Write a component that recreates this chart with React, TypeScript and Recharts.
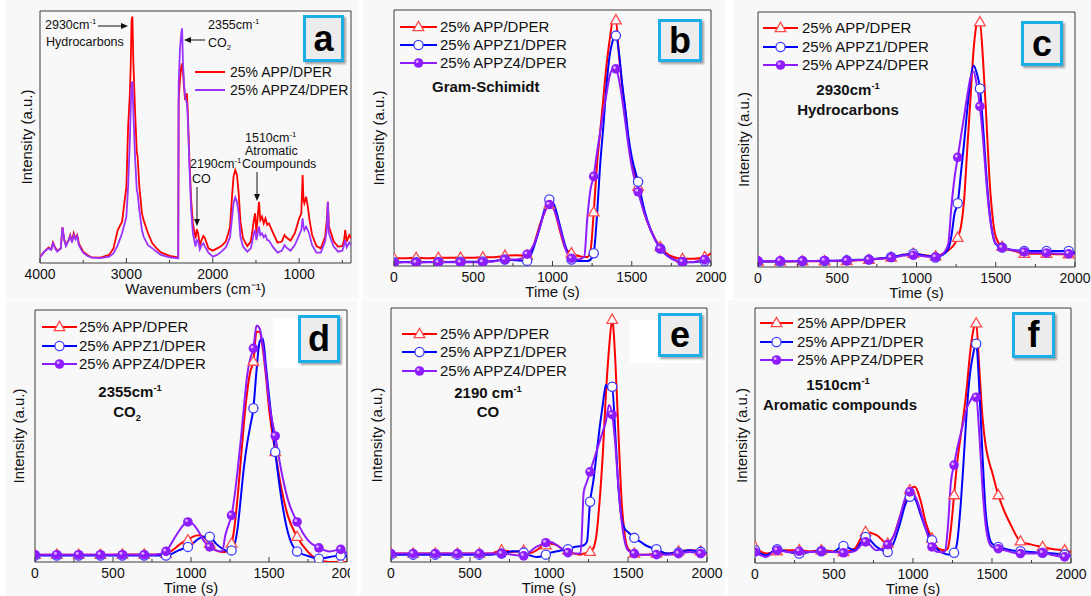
import React from 'react';
import { LineChart, Line, XAxis, YAxis, ReferenceArea } from 'recharts';

const FONT = '"Liberation Sans", Arial, Helvetica, sans-serif';
const RED = '#ff0000';
const BLUE = '#0000ff';
const PURPLE = '#8f1cff';
const PURPLE_A = '#9933ff';
const FRAME = '#3c3c3c';
const BG = '#f8f8f8';

// ---------------- Panel a : FTIR spectra ----------------
const wavenumbers = [
  4000, 3950, 3900, 3870, 3850, 3820, 3800, 3760, 3740, 3720,
  3700, 3670, 3650, 3630, 3610, 3590, 3570, 3550, 3520, 3500,
  3450, 3400, 3300, 3200, 3150, 3100, 3050, 3000, 2980, 2960,
  2950, 2940, 2930, 2920, 2900, 2880, 2870, 2850, 2820, 2800,
  2750, 2700, 2650, 2600, 2500, 2400, 2395, 2380, 2365, 2355,
  2345, 2330, 2320, 2310, 2300, 2290, 2270, 2250, 2230, 2200,
  2185, 2170, 2150, 2130, 2110, 2090, 2050, 2000, 1950, 1900,
  1850, 1820, 1800, 1780, 1760, 1740, 1720, 1700, 1680, 1650,
  1600, 1560, 1540, 1525, 1510, 1495, 1480, 1465, 1450, 1430,
  1410, 1390, 1370, 1350, 1300, 1250, 1200, 1170, 1150, 1100,
  1050, 1000, 975, 960, 950, 940, 920, 900, 880, 850,
  800, 750, 700, 680, 668, 655, 630, 600, 550, 500,
  480, 467, 450, 420, 400,
];
const aAPP = [
  2.5, 4.5, 6.2, 5.4, 8.1, 5.8, 4.9, 5.8, 14.2, 9.4,
  7.1, 9.1, 11.1, 8.5, 11.8, 9.8, 11.1, 7.8, 5.8, 4.5,
  3.2, 2.2, 2.1, 3.2, 5.8, 13.1, 16.4, 30.3, 54, 67,
  78, 96.4, 97.8, 80.6, 60.7, 44.2, 42.2, 30.3, 19.7, 17,
  11.8, 7.8, 5.8, 4.2, 2.8, 2.2, 64.7, 72.6, 78, 79.2,
  75.3, 68.7, 64.7, 66, 67.3, 60.7, 40.9, 25, 15.7, 9.8,
  13.4, 11.8, 7.1, 9.1, 10.7, 9.8, 5.8, 4.9, 5.8, 6.7,
  8.5, 11.8, 14.4, 25, 34.3, 36.9, 34.9, 27.6, 16.4, 9.8,
  6.7, 8.5, 13.1, 17, 19.7, 11.8, 18.4, 24.3, 17, 18.4,
  15.7, 17.7, 15.1, 15.7, 11.8, 8.1, 8.5, 11.1, 10.2, 8.9,
  11.8, 17.7, 19.7, 34.9, 25, 23.7, 26.3, 22.4, 17, 11.1,
  6.7, 5.8, 10.4, 17, 24.3, 14.4, 11.8, 8.5, 6.5, 6.7,
  9.1, 13.1, 8.5, 11.1, 9.8,
];
const aAPPZ4 = [
  2.2, 4.5, 5.8, 5.2, 7.8, 5.4, 4.5, 5.8, 14.2, 9.1,
  6.7, 8.9, 10.7, 8.1, 11.1, 9.4, 10.7, 7.1, 5.2, 4.1,
  2.8, 2.1, 1.9, 2.5, 3.8, 7.1, 11.8, 18.4, 30.3, 48.8,
  60.7, 71.3, 72, 60.7, 42.2, 29, 27.6, 21, 13.1, 10.4,
  7.1, 5.8, 4.5, 3.2, 2.2, 1.9, 71.3, 84.5, 91.1, 93.1,
  79.2, 70, 66, 64.7, 63.4, 58.1, 38.2, 21, 11.8, 6.5,
  9.1, 8.9, 5.4, 7.1, 7.8, 6.5, 4.1, 2.5, 3.2, 4.5,
  6.2, 8.5, 10.4, 17, 23.7, 26.1, 24.3, 19.7, 10.4, 6.5,
  4.5, 5.8, 9.1, 11.8, 13.1, 9.1, 11.8, 14.4, 11.1, 11.8,
  10.2, 11.1, 9.1, 8.9, 6.2, 4.1, 4.9, 7.1, 6.2, 4.9,
  7.1, 11.1, 13.1, 17.7, 14.4, 13.1, 14.4, 13.1, 11.1, 7.1,
  4.1, 4.1, 8.5, 13.1, 24.3, 11.8, 9.1, 6.5, 4.5, 4.9,
  7.1, 9.1, 6.2, 8.1, 7.1,
];
const wavenumberTicks = [4000, 3500, 3000, 2500, 2000, 1500, 1000, 500];

// ---------------- Panels b-f : evolution vs time ----------------
const times = [
  0, 70, 140, 210, 280, 350, 420, 490, 560, 630,
  700, 770, 840, 880, 920, 950, 980, 1010, 1050, 1080,
  1120, 1160, 1200, 1220, 1240, 1260, 1280, 1300, 1320, 1340,
  1360, 1380, 1400, 1420, 1440, 1460, 1480, 1500, 1540, 1580,
  1620, 1680, 1750, 1820, 1890, 1960, 2000,
];
const timeTicks = [0, 250, 500, 750, 1000, 1250, 1500, 1750, 2000];

// b: Gram-Schimidt
const bAPP = [3, 3, 3.2, 3, 3.2, 3.2, 3.3, 3.2, 3.4, 3.4, 4, 4.2, 4, 8, 16, 21, 24, 22, 13, 7, 5, 4, 3.5, 3.5, 6, 21, 39, 52, 65, 78, 88, 95.5, 96, 82, 70, 60, 49, 41, 31, 20.5, 14, 7.4, 3.8, 2.8, 2.8, 3.5, 5];
const bAPPZ1 = [1.5, 1.6, 1.5, 1.6, 1.6, 1.6, 1.7, 1.7, 1.8, 2, 2.5, 2.2, 2, 7, 15, 22, 26, 24, 15, 8, 2.5, 2, 2, 2, 2.5, 5, 19, 39, 54, 70, 82, 88, 90, 83, 71, 61, 50, 42.6, 32.9, 21.8, 14, 6.8, 3, 1.6, 1.5, 2, 2];
const bAPPZ4 = [1.2, 1.5, 1.3, 1.5, 1.4, 1.5, 1.4, 1.5, 1.5, 1.8, 2.5, 2.5, 4.6, 8, 15, 21, 24, 22, 14, 7, 3, 2.5, 3.5, 19, 30, 35, 44, 52, 60, 67, 74, 77, 77, 72.6, 65, 56, 46.5, 38.7, 29, 20.5, 14, 6.8, 2.9, 1.6, 1.6, 2.5, 1.6];

// c: 2930 cm-1 hydrocarbons
const cAPP = [2.2, 2.2, 2.2, 2.2, 2.3, 2.3, 2.3, 2.4, 2.4, 2.6, 2.8, 3.2, 3.7, 4.2, 4.8, 5, 5.2, 5, 4.6, 4.4, 4.2, 5, 6.5, 7.5, 9, 11.5, 15.7, 26, 46, 65.5, 85, 95, 96, 81, 59, 35, 19.7, 11.8, 7.9, 6.8, 6.3, 5.2, 5.2, 5.2, 5, 5, 5.2];
const cAPPZ1 = [2.2, 2.2, 2.2, 2.3, 2.3, 2.4, 2.4, 2.5, 2.6, 2.8, 2.9, 3.4, 3.9, 4.3, 4.8, 5, 5.2, 5, 4.5, 4.2, 3.7, 4.6, 7, 12, 21, 25, 36.7, 48.5, 61.6, 73.4, 79, 76, 70, 55, 36.7, 22, 13, 9, 7.6, 7, 6.6, 6.3, 6.3, 6.3, 6.3, 6.3, 5.5];
const cAPPZ4 = [2.4, 2.4, 2.4, 2.4, 2.4, 2.4, 2.5, 2.5, 2.5, 2.7, 2.9, 3.2, 3.7, 4, 4.5, 4.6, 4.6, 4.5, 4.2, 4, 3.9, 4.8, 9, 23.6, 35, 43, 51, 59, 67, 74, 76.7, 71.4, 63, 50, 34, 21, 13, 9.2, 7.6, 7, 6.5, 5.9, 5.6, 5.5, 5.3, 5.2, 5.2];

// d: 2355 cm-1 CO2
const dAPP = [2.9, 2.9, 2.9, 2.9, 2.9, 2.9, 2.9, 2.9, 3, 3, 3, 3, 3.3, 4.6, 6.6, 8, 8.6, 10, 10.6, 10, 7.3, 4.6, 4, 4, 5.3, 7.3, 14.6, 26.5, 41, 55.6, 67.5, 75.5, 79.5, 91.4, 91.4, 84.8, 74, 61, 43.7, 29, 18.5, 10, 4, 0.7, 0, 0, 0];
const dAPPZ1 = [2.6, 2.6, 2.6, 2.6, 2.6, 2.6, 2.6, 2.6, 2.6, 2.6, 2.6, 2.6, 2.6, 3.3, 4.6, 5.3, 6, 7.3, 9.3, 10, 10, 7.3, 5.3, 4.6, 4.2, 4.6, 7, 14, 26, 38, 47, 54, 61, 76, 87.4, 88.7, 78, 66, 43.7, 25, 12, 4.2, 2.4, 1.3, 2, 2.6, 2.4];
const dAPPZ4 = [2.9, 2.9, 2.9, 2.9, 2.9, 2.9, 2.9, 2.9, 2.9, 2.9, 2.9, 2.9, 4.2, 8, 12, 14.6, 15.9, 15.2, 12, 8.6, 6, 4.6, 4.2, 10.6, 14.6, 18.5, 26.5, 37, 49, 62, 74, 80.8, 84.8, 93.8, 92.7, 86, 75.5, 63.6, 50, 35.8, 25, 15.9, 8.6, 5.6, 4.2, 5, 3.3];

// e: 2190 cm-1 CO
const eAPP = [3.3, 3.3, 3.3, 3.3, 3.3, 3.3, 3.3, 3.3, 3.3, 3.3, 4.6, 4, 4.5, 3.5, 4.6, 6, 6.6, 7.2, 6.6, 5.3, 4.6, 3.3, 2.9, 3.3, 3.3, 4, 5.3, 10.5, 23.7, 42, 65.8, 84, 95.4, 79, 50, 23.7, 10.5, 5.3, 3.3, 2.9, 2.9, 3.3, 3.3, 4.2, 4.6, 4.2, 3.3];
const eAPPZ1 = [2.9, 2.9, 2.9, 2.9, 2.9, 2.9, 2.9, 2.9, 2.9, 2.9, 3.3, 4.2, 3.7, 2.6, 2, 2.2, 2.9, 3.7, 4.2, 4.6, 5, 5.9, 6.3, 6.6, 7.9, 23.7, 31.6, 42, 52.6, 61.8, 69.7, 68, 69, 50, 29, 17, 13, 11.8, 9.5, 7.9, 6.3, 5, 3.3, 3.7, 4.6, 4, 3.3];
const eAPPZ4 = [3.3, 3.3, 3.3, 3.3, 3.3, 3.3, 3.3, 3.3, 3.3, 3.3, 3.3, 2.9, 2.4, 4, 6, 6.8, 7.6, 7.9, 6.6, 5.3, 3.7, 3.3, 3.3, 27.6, 31.6, 35.5, 39.5, 43.4, 47.4, 51.3, 55.3, 61.8, 58, 46, 29, 15.8, 7.9, 4.6, 3.3, 2.9, 2.9, 2.9, 2.9, 3.3, 3.9, 3.3, 3.3];

// f: 1510 cm-1 aromatic compounds
const fAPP = [6.3, 3.7, 4.6, 5, 5, 4.6, 5, 4.6, 4.3, 5.6, 12.2, 10.9, 7.6, 10.9, 18.7, 24, 28.6, 29.9, 24, 16, 9.6, 5.6, 5, 5.6, 13.5, 26.6, 39.7, 48.9, 58, 68.5, 81.6, 90.8, 94, 76, 57, 46, 40, 35.8, 26.6, 20, 14.8, 8.5, 7.2, 6.3, 5.4, 5, 4.3];
const fAPPZ1 = [5, 3, 5.4, 4.3, 3.7, 4.3, 4.6, 4.3, 6.7, 5, 10.2, 6.3, 4.3, 8.3, 16, 22.7, 26, 25.3, 18.7, 13.5, 8.9, 5, 3.7, 3.3, 3.3, 4, 8.3, 21.4, 39.7, 59.4, 73.8, 81.7, 86, 68, 42, 20, 10.9, 7.6, 6.3, 5.6, 5, 4.6, 4.3, 4, 3.7, 3.3, 3];
const fAPPZ4 = [4.3, 2.4, 5, 4.3, 4.6, 4.3, 4.6, 4.3, 4, 4.6, 8.3, 5, 7.2, 10.9, 18.7, 25.3, 27.9, 26.6, 20, 13.5, 6.3, 4.3, 4.3, 13.5, 31.8, 38.4, 45, 50.2, 55.4, 60.7, 63.3, 65.3, 65, 50.2, 29.2, 14.8, 8.3, 6.3, 5.6, 5, 4.3, 3.7, 3.7, 4, 3, 2.4, 2.8];

const seriesNames = ['25% APP/DPER', '25% APPZ1/DPER', '25% APPZ4/DPER'];
const MARKER_STEP = 140;

type Series = { key: string; name: string; color: string; marker: string };

const SERIES3: Series[] = [
  { key: 'app', name: seriesNames[0], color: RED, marker: 'tri' },
  { key: 'z1', name: seriesNames[1], color: BLUE, marker: 'open' },
  { key: 'z4', name: seriesNames[2], color: PURPLE, marker: 'solid' },
];
const SERIES_A: Series[] = [
  { key: 'app', name: seriesNames[0], color: RED, marker: 'none' },
  { key: 'z4', name: seriesNames[2], color: PURPLE_A, marker: 'none' },
];

const spectrumRows = wavenumbers.map((w, i) => ({ w, app: aAPP[i], z4: aAPPZ4[i] }));
const timeRows = (app: number[], z1: number[], z4: number[]) =>
  times.map((t, i) => ({ t, app: app[i], z1: z1[i], z4: z4[i] }));

function markerShape(kind: string, cx: number, cy: number) {
  if (kind === 'tri')
    return (
      <path
        d={`M${cx},${cy - 5.6}L${cx + 5.3},${cy + 3.6}L${cx - 5.3},${cy + 3.6}Z`}
        fill="#ffffff"
        stroke="#ff4a4a"
        strokeWidth={1.3}
      />
    );
  if (kind === 'open') return <circle cx={cx} cy={cy} r={4.6} fill="#ffffff" stroke="#3d3dff" strokeWidth={1.3} />;
  if (kind === 'solid')
    return (
      <g>
        <circle cx={cx} cy={cy} r={4.8} fill={PURPLE} />
        <circle cx={cx - 1.4} cy={cy - 1.4} r={1.5} fill="#d9a8ff" />
      </g>
    );
  return null;
}

const dotFor = (s: Series) => (props: any) => {
  const { cx, cy, payload, index } = props;
  const k = `${s.key}-${index}`;
  if (cx == null || cy == null || payload.t % MARKER_STEP !== 0) return <g key={k} />;
  return <g key={k}>{markerShape(s.marker, cx, cy)}</g>;
};

const makeTick = (majorStep: number) => (p: any) => {
  const { x, y, payload } = p;
  const v = payload.value;
  const major = v % majorStep === 0;
  return (
    <g>
      <line x1={x} x2={x} y1={y} y2={y - (major ? 5 : 3)} stroke={FRAME} strokeWidth={1} />
      {major ? (
        <text x={x} y={y + 16} textAnchor="middle" fontSize={14} fontFamily={FONT} fill="#111">
          {v}
        </text>
      ) : null}
    </g>
  );
};

type Plot = { x: number; y: number; w: number; h: number };

function ChartPanel(props: {
  plot: Plot;
  rightPad: number;
  data: any[];
  xKey: string;
  domain: number[];
  ticks: number[];
  majorStep: number;
  reversed?: boolean;
  xLabel: string;
  yOff: number;
  series: Series[];
  curve: 'linear' | 'monotone';
  strokeWidth: number;
}) {
  const { plot, rightPad, data, xKey, domain, ticks, majorStep, reversed, xLabel, yOff, series, curve, strokeWidth } = props;
  const left = plot.x - 40;
  const top = plot.y - 5;
  const W = plot.w + 40 + rightPad;
  const H = plot.h + 45;
  return (
    <div style={{ position: 'absolute', left, top, width: W, height: H }}>
      <LineChart width={W} height={H} data={data} margin={{ top: 5, right: rightPad, bottom: 0, left: 0 }}>
        <XAxis
          dataKey={xKey}
          type="number"
          domain={domain}
          ticks={ticks}
          interval={0}
          reversed={reversed}
          allowDataOverflow
          height={40}
          axisLine={false}
          tickLine={false}
          tickSize={0}
          tickMargin={0}
          tick={makeTick(majorStep)}
          label={{ value: xLabel, position: 'insideBottom', offset: 9, style: { fontSize: 15, fill: '#111', fontFamily: FONT } }}
        />
        <YAxis
          type="number"
          domain={[0, 100]}
          width={40}
          tick={false}
          axisLine={false}
          tickLine={false}
          allowDataOverflow
          label={{
            value: 'Intensity (a.u.)',
            angle: -90,
            position: 'insideLeft',
            offset: yOff,
            style: { textAnchor: 'middle', fontSize: 15, fill: '#111', fontFamily: FONT },
          }}
        />
        <ReferenceArea
          x1={domain[0]}
          x2={domain[1]}
          y1={0}
          y2={100}
          fill={BG}
          fillOpacity={1}
          stroke={FRAME}
          strokeWidth={1}
          ifOverflow="visible"
        />
        {series.map((s) => (
          <Line
            key={s.key}
            dataKey={s.key}
            name={s.name}
            type={curve}
            stroke={s.color}
            strokeWidth={strokeWidth}
            dot={s.marker === 'none' ? false : dotFor(s)}
            activeDot={false}
            isAnimationActive={false}
          />
        ))}
      </LineChart>
    </div>
  );
}

type Rect = { x: number; y: number; w: number; h: number };

type TimePanel = {
  id: string;
  plot: Plot;
  rightPad: number;
  yOff: number;
  data: any[];
  legend: { x1: number; x2: number; tx: number; ys: number[] };
  box: Rect;
  bg: Rect;
  patch?: Rect;
};

const timePanels: TimePanel[] = [
  { id: 'b', plot: { x: 394, y: 10, w: 317, h: 256 }, rightPad: 16, yOff: 25, data: timeRows(bAPP, bAPPZ1, bAPPZ4), legend: { x1: 400, x2: 437, tx: 440, ys: [27, 45, 63] }, box: { x: 658, y: 19, w: 44, h: 43 }, bg: { x: 363, y: 0, w: 362, h: 299 } },
  { id: 'c', plot: { x: 758, y: 12, w: 317, h: 255 }, rightPad: 16, yOff: 26, data: timeRows(cAPP, cAPPZ1, cAPPZ4), legend: { x1: 763, x2: 798, tx: 802, ys: [28, 47, 65] }, box: { x: 1021, y: 21, w: 42, h: 45 }, bg: { x: 733, y: 0, w: 358, h: 299 } },
  { id: 'd', plot: { x: 35, y: 310, w: 312, h: 252 }, rightPad: 3, yOff: 24, data: timeRows(dAPP, dAPPZ1, dAPPZ4), legend: { x1: 42, x2: 77, tx: 79, ys: [327, 346, 364] }, box: { x: 298, y: 315, w: 42, h: 48 }, bg: { x: 6, y: 300, w: 351, h: 296 }, patch: { x: 273, y: 318, w: 72, h: 50 } },
  { id: 'e', plot: { x: 391, y: 308, w: 316, h: 254 }, rightPad: 16, yOff: 26, data: timeRows(eAPP, eAPPZ1, eAPPZ4), legend: { x1: 402, x2: 437, tx: 440, ys: [334, 352, 371] }, box: { x: 658, y: 313, w: 44, h: 44 }, bg: { x: 361, y: 300, w: 364, h: 296 }, patch: { x: 630, y: 320, w: 72, h: 43 } },
  { id: 'f', plot: { x: 755, y: 308, w: 316, h: 255 }, rightPad: 16, yOff: 27, data: timeRows(fAPP, fAPPZ1, fAPPZ4), legend: { x1: 760, x2: 793, tx: 797, ys: [323, 342, 360] }, box: { x: 1012, y: 312, w: 43, h: 46 }, bg: { x: 728, y: 300, w: 363, h: 296 } },
];

const panelA = {
  plot: { x: 40, y: 11, w: 311, h: 252 },
  legend: { x1: 195, x2: 225, tx: 230, ys: [72, 90] },
  box: { x: 303, y: 15, w: 41, h: 47 },
  bg: { x: 6, y: 0, w: 353, h: 299 },
};

function LegendRows({ series, lg, fontSize }: { series: Series[]; lg: { x1: number; x2: number; tx: number; ys: number[] }; fontSize: number }) {
  return (
    <g>
      {series.map((s, i) => {
        const y = lg.ys[i];
        return (
          <g key={s.key}>
            <line x1={lg.x1} x2={lg.x2} y1={y} y2={y} stroke={s.color} strokeWidth={2} />
            {markerShape(s.marker, (lg.x1 + lg.x2) / 2, y)}
            <text x={lg.tx} y={y + fontSize * 0.36} fontSize={fontSize} fontFamily={FONT} fill="#111">
              {s.name}
            </text>
          </g>
        );
      })}
    </g>
  );
}

function Arrow({ x1, y1, x2, y2 }: { x1: number; y1: number; x2: number; y2: number }) {
  const dx = x2 - x1;
  const dy = y2 - y1;
  const len = Math.sqrt(dx * dx + dy * dy);
  const ux = dx / len;
  const uy = dy / len;
  const hl = 7;
  const hw = 3;
  const bx = x2 - ux * hl;
  const by = y2 - uy * hl;
  return (
    <g>
      <line x1={x1} y1={y1} x2={bx} y2={by} stroke="#111" strokeWidth={1} />
      <path d={`M${x2},${y2}L${bx - uy * hw},${by + ux * hw}L${bx + uy * hw},${by - ux * hw}Z`} fill="#111" />
    </g>
  );
}

function Sup({ x, y, base, sup, size, bold, anchor }: { x: number; y: number; base: string; sup: string; size: number; bold?: boolean; anchor?: string }) {
  return (
    <text x={x} y={y} fontSize={size} fontFamily={FONT} fontWeight={bold ? 'bold' : 'normal'} fill="#111" textAnchor={anchor || 'start'}>
      {base}
      <tspan dy={-size * 0.42} fontSize={size * 0.62}>
        {sup}
      </tspan>
    </text>
  );
}

function Sub({ x, y, base, sub, size, bold, anchor }: { x: number; y: number; base: string; sub: string; size: number; bold?: boolean; anchor?: string }) {
  return (
    <text x={x} y={y} fontSize={size} fontFamily={FONT} fontWeight={bold ? 'bold' : 'normal'} fill="#111" textAnchor={anchor || 'start'}>
      {base}
      <tspan dy={size * 0.25} fontSize={size * 0.62}>
        {sub}
      </tspan>
    </text>
  );
}

function Plain({ x, y, text, size, bold, anchor }: { x: number; y: number; text: string; size: number; bold?: boolean; anchor?: string }) {
  return (
    <text x={x} y={y} fontSize={size} fontFamily={FONT} fontWeight={bold ? 'bold' : 'normal'} fill="#111" textAnchor={anchor || 'start'}>
      {text}
    </text>
  );
}

function LetterBox({ box, letter }: { box: Rect; letter: string }) {
  return (
    <div
      style={{
        position: 'absolute',
        left: box.x,
        top: box.y,
        width: box.w,
        height: box.h,
        boxSizing: 'border-box',
        border: '3px solid #1daee6',
        background: '#ececec',
        boxShadow: '2px 2px 2px rgba(0,0,0,0.35)',
        display: 'flex',
        alignItems: 'center',
        justifyContent: 'center',
        fontFamily: FONT,
        fontWeight: 'bold',
        fontSize: 36,
        lineHeight: 1,
        color: '#000',
      }}
    >
      {letter}
    </div>
  );
}

export default function App() {
  const bgs = [panelA.bg, ...timePanels.map((p) => p.bg)];
  return (
    <div style={{ position: 'absolute', left: 0, top: 0, width: 1091, height: 596, background: '#ffffff', overflow: 'hidden', fontFamily: FONT }}>
      {bgs.map((b, i) => (
        <div key={i} style={{ position: 'absolute', left: b.x, top: b.y, width: b.w, height: b.h, background: BG }} />
      ))}

      <ChartPanel
        plot={panelA.plot}
        rightPad={8}
        data={spectrumRows}
        xKey="w"
        domain={[400, 4000]}
        ticks={wavenumberTicks}
        majorStep={1000}
        reversed
        xLabel="Wavenumbers (cm⁻¹)"
        yOff={27}
        series={SERIES_A}
        curve="linear"
        strokeWidth={1.8}
      />
      {timePanels.map((p) => (
        <ChartPanel
          key={p.id}
          plot={p.plot}
          rightPad={p.rightPad}
          data={p.data}
          xKey="t"
          domain={[0, 2000]}
          ticks={timeTicks}
          majorStep={500}
          xLabel="Time (s)"
          yOff={p.yOff}
          series={SERIES3}
          curve="monotone"
          strokeWidth={2}
        />
      ))}

      {timePanels
        .filter((p) => p.patch)
        .map((p) => (
          <div key={`patch-${p.id}`} style={{ position: 'absolute', left: p.patch!.x, top: p.patch!.y, width: p.patch!.w, height: p.patch!.h, background: '#ffffff' }} />
        ))}

      <svg width={1091} height={596} style={{ position: 'absolute', left: 0, top: 0, pointerEvents: 'none' }}>
        {/* panel a */}
        <LegendRows series={SERIES_A} lg={panelA.legend} fontSize={14} />
        <Sup x={45} y={29} base="2930cm" sup="-1" size={12.5} />
        <Arrow x1={98} y1={26} x2={128} y2={26} />
        <Plain x={46} y={46} text="Hydrocarbons" size={12.5} />
        <Sup x={208} y={29} base="2355cm" sup="-1" size={12.5} />
        <Sub x={208} y={47} base="CO" sub="2" size={12.5} />
        <Arrow x1={205} y1={40} x2={184} y2={40} />
        <Sup x={245} y={142} base="1510cm" sup="-1" size={12.5} />
        <Plain x={245} y={155} text="Atromatic" size={12.5} />
        <Plain x={242} y={168} text="Coumpounds" size={12.5} />
        <Arrow x1={257} y1={172} x2={257} y2={201} />
        <Sup x={190} y={168} base="2190cm" sup="-1" size={12.5} />
        <Plain x={192} y={183} text="CO" size={12.5} />
        <Arrow x1={197} y1={187} x2={197} y2={226} />

        {/* panels b-f legends */}
        {timePanels.map((p) => (
          <LegendRows key={p.id} series={SERIES3} lg={p.legend} fontSize={15} />
        ))}

        {/* panel notes */}
        <Plain x={432} y={92} text="Gram-Schimidt" size={15} bold />
        <Sup x={848} y={95} base="2930cm" sup="-1" size={15} bold anchor="middle" />
        <Plain x={848} y={115} text="Hydrocarbons" size={15} bold anchor="middle" />
        <Sup x={130} y={397} base="2355cm" sup="-1" size={15} bold anchor="middle" />
        <Sub x={127} y={417} base="CO" sub="2" size={15} bold anchor="middle" />
        <Sup x={488} y={398} base="2190 cm" sup="-1" size={15} bold anchor="middle" />
        <Plain x={488} y={417} text="CO" size={15} bold anchor="middle" />
        <Sup x={838} y={390} base="1510cm" sup="-1" size={15} bold anchor="middle" />
        <Plain x={840} y={410} text="Aromatic compounds" size={15} bold anchor="middle" />
      </svg>

      <LetterBox box={panelA.box} letter="a" />
      {timePanels.map((p) => (
        <LetterBox key={p.id} box={p.box} letter={p.id} />
      ))}
    </div>
  );
}
